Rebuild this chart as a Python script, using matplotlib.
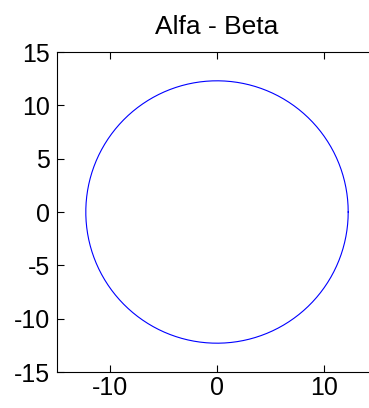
import matplotlib.pyplot as plt
import numpy as np

# circle of radius ~12.3 centred at the origin
radius = 12.3
center = (0.0, 0.0)
xticks = [-10, 0, 10]
yticks = [-15, -10, -5, 0, 5, 10, 15]

plt.rcParams['font.family'] = ['Liberation Sans', 'DejaVu Sans']
plt.rcParams['axes.unicode_minus'] = False

fig = plt.figure(figsize=(3.69, 4.08), dpi=100)
W, H = 369, 408
# axes box runs past the right edge of the image, as in the reference
ax = fig.add_axes([57 / W, (H - 372) / H, 320 / W, 320 / H])

t = np.linspace(0, 2 * np.pi, 400)
ax.plot(center[0] + radius * np.cos(t), center[1] + radius * np.sin(t),
        color='blue', linewidth=0.8)

ax.set_xlim(-15, 15)
ax.set_ylim(-15, 15)
ax.set_xticks(xticks)
ax.set_yticks(yticks)
ax.tick_params(direction='in', top=True, right=True, length=5, labelsize=18)
ax.tick_params(axis='y', pad=5)
ax.tick_params(axis='x', pad=3)
for s in ax.spines.values():
    s.set_linewidth(0.8)

ax.set_title("Alfa - Beta", fontsize=19, pad=13)

fig.savefig("out.png", dpi=100)
